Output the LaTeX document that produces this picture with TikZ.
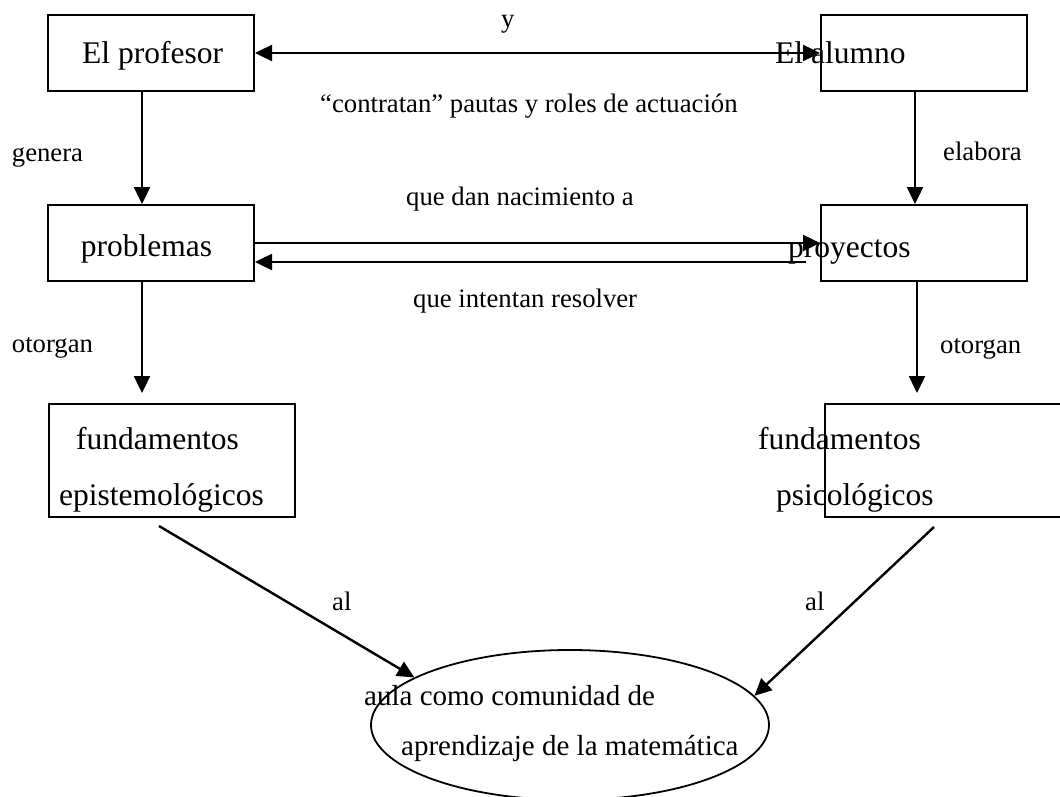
\documentclass[tikz,border=0pt]{standalone}
\usepackage{fontspec}
\setmainfont{Liberation Serif}
\usetikzlibrary{arrows.meta,shapes.geometric}
\begin{document}
\begin{tikzpicture}[x=1pt,y=-1pt,
  box/.style={draw, line width=2pt, inner sep=0pt},
  bigtxt/.style={inner sep=0pt, anchor=base west, font=\fontsize{31.5pt}{36pt}\selectfont},
  lbl/.style={inner sep=0pt, anchor=base west, font=\fontsize{26.7pt}{32pt}\selectfont},
  ovaltxt/.style={inner sep=0pt, anchor=base west, font=\fontsize{29pt}{34pt}\selectfont},
  tip/.style={Triangle[length=17pt,width=16pt]},
  conn/.style={line width=2.4pt, -{Triangle[length=17pt,width=16pt]}},
  both/.style={line width=2.4pt, {Triangle[length=17pt,width=16pt]}-{Triangle[length=17pt,width=16pt]}},
]
\useasboundingbox (0,0) rectangle (1060,797);

% boxes
\node[box, minimum width=206pt, minimum height=76pt] (profesor) at (151,53) {};
\node[box, minimum width=206pt, minimum height=76pt] (alumno) at (924,53) {};
\node[box, minimum width=206pt, minimum height=76pt] (problemas) at (151,243) {};
\node[box, minimum width=206pt, minimum height=76pt] (proyectos) at (924,243) {};
\node[box, minimum width=246pt, minimum height=113pt] (epis) at (172,460.5) {};
\node[box, minimum width=245pt, minimum height=113pt] (psic) at (947.5,460.5) {};
\node[draw, ellipse, line width=1.8pt, inner sep=0pt, minimum width=398pt, minimum height=150pt] (aula) at (570,725) {};

% box texts
\node[bigtxt] (profesor-t) at (82,64) {El profesor};
\node[bigtxt] (alumno-t) at (775,64) {El alumno};
\node[bigtxt] (problemas-t) at (80.7,256.7) {problemas};
\node[bigtxt] (proyectos-t) at (788,257) {proyectos};
\node[bigtxt] (epis-t1) at (76,449) {fundamentos};
\node[bigtxt] (epis-t2) at (59,505) {epistemológicos};
\node[bigtxt] (psic-t1) at (758,449) {fundamentos};
\node[bigtxt] (psic-t2) at (776,505) {psicológicos};
\node[ovaltxt] (aula-t1) at (364,705) {aula como comunidad de};
\node[ovaltxt] (aula-t2) at (401,755) {aprendizaje de la matemática};

% connectors
\draw[both] (profesor) -- (alumno);
\draw[conn] ([xshift=-9pt]profesor.south) -- ([xshift=-9pt]problemas.north);
\draw[conn] ([xshift=-9pt]alumno.south) -- ([xshift=-9pt]proyectos.north);
\draw[conn] (problemas) -- (proyectos);
\coordinate (back) at (806,262);
\draw[conn] (back) -- (back -| problemas.east);
\coordinate (epis-in) at (142,393);
\draw[conn] ([xshift=-9pt]problemas.south) -- (epis-in);
\coordinate (psic-in) at (917,393);
\draw[conn] ([xshift=-7pt]proyectos.south) -- (psic-in);
\coordinate (epis-out) at (159,526);
\draw[conn] (epis-out) -- (aula.163);
\coordinate (psic-out) at (934,527);
\draw[conn] (psic-out) -- (aula.9);

% connector labels
\node[lbl] (l-y) at (501,27.5) {y};
\node[lbl] (l-contratan) at (320,113) {“contratan” pautas y roles de actuación};
\node[lbl] (l-genera) at (11.7,161.7) {genera};
\node[lbl] (l-elabora) at (943,160.7) {elabora};
\node[lbl] (l-dan) at (406,205.5) {que dan nacimiento a};
\node[lbl] (l-intentan) at (413,307.5) {que intentan resolver};
\node[lbl] (l-otorgan1) at (11.7,352.7) {otorgan};
\node[lbl] (l-otorgan2) at (940,353) {otorgan};
\node[lbl] (l-al1) at (332,610) {al};
\node[lbl] (l-al2) at (805,610) {al};
\end{tikzpicture}
\end{document}
